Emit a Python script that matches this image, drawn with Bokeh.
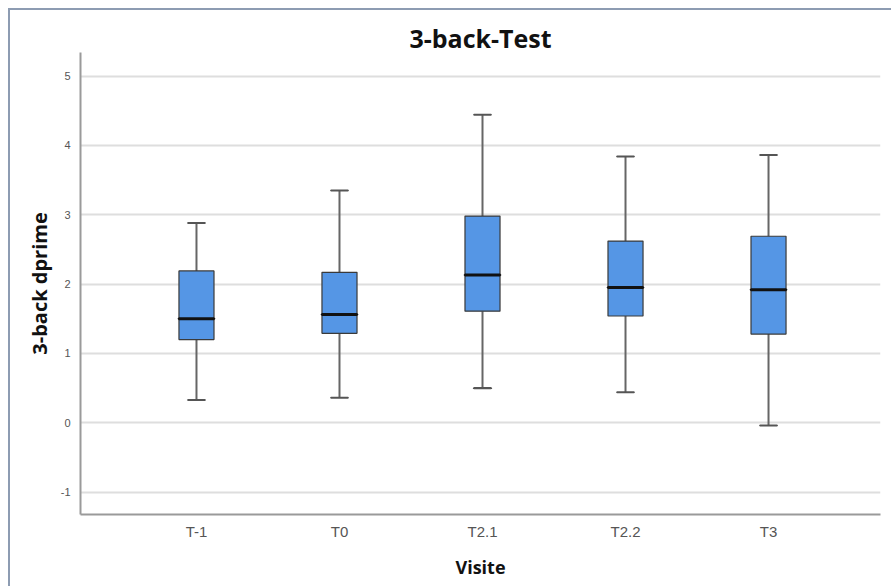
from bokeh.plotting import figure
from bokeh.models import Range1d, FixedTicker, ColumnDataSource
from bokeh.embed import file_html
from bokeh.resources import INLINE

# Data
visits = ["T-1", "T0", "T2.1", "T2.2", "T3"]
whisker_low = [0.33, 0.36, 0.50, 0.44, -0.04]
q1 = [1.20, 1.29, 1.61, 1.54, 1.28]
median = [1.50, 1.56, 2.13, 1.95, 1.92]
q3 = [2.19, 2.17, 2.98, 2.62, 2.69]
whisker_high = [2.88, 3.35, 4.44, 3.84, 3.86]
y_ticks = [-1, 0, 1, 2, 3, 4, 5]

xpos = list(range(len(visits)))

p = figure(width=883, height=578, output_backend="svg", toolbar_location=None,
           x_range=Range1d(-0.811, 4.783), y_range=Range1d(-1.322, 5.339),
           min_border_left=70, min_border_right=13, min_border_top=42, min_border_bottom=74)
p.styles = {"margin-left": "8px", "margin-top": "8px",
            "border-left": "2px solid #8d9cb2", "border-top": "2px solid #8d9cb2"}

p.title.text = "3-back-Test"
p.title.align = "center"
p.title.text_font = "Open Sans"
p.title.text_font_style = "bold"
p.title.text_font_size = "25px"
p.title.text_color = "#111111"
p.title.standoff = -5

p.outline_line_color = None
p.background_fill_color = "white"
p.border_fill_color = "white"

src = ColumnDataSource(dict(x=xpos, lo=whisker_low, q1=q1, med=median, q3=q3, hi=whisker_high))

# whiskers
p.segment(x0="x", y0="q3", x1="x", y1="hi", source=src, line_color="#666666", line_width=2)
p.segment(x0="x", y0="lo", x1="x", y1="q1", source=src, line_color="#666666", line_width=2)
p.rect(x="x", y="hi", width=0.12, height=0.0001, source=src, line_color="#555555", line_width=2)
p.rect(x="x", y="lo", width=0.12, height=0.0001, source=src, line_color="#555555", line_width=2)
# boxes
p.vbar(x="x", bottom="q1", top="q3", width=0.245, source=src,
       fill_color="#5596e5", line_color="#3a3a3a", line_width=1.2)
# medians
p.rect(x="x", y="med", width=0.245, height=0.0001, source=src, line_color="#111111", line_width=3)

# axes
p.xgrid.grid_line_color = None
p.ygrid.grid_line_color = "#dedede"
p.ygrid.grid_line_width = 2
p.yaxis.ticker = FixedTicker(ticks=y_ticks)
p.yaxis.major_label_overrides = {t: str(t) for t in y_ticks}
p.xaxis.ticker = FixedTicker(ticks=xpos)
p.xaxis.major_label_overrides = {i: v for i, v in enumerate(visits)}

for ax in (p.xaxis[0], p.yaxis[0]):
    ax.axis_line_color = "#9a9a9a"
    ax.axis_line_width = 2
    ax.major_tick_line_color = None
    ax.minor_tick_line_color = None
    ax.major_label_text_font = "Liberation Sans"
    ax.major_label_text_color = "#555555"
    ax.axis_label_text_font = "Open Sans"
    ax.axis_label_text_font_style = "bold"
    ax.axis_label_text_color = "#111111"

p.yaxis.axis_label_text_font_size = "20px"
p.xaxis.axis_label_text_font_size = "18px"
p.yaxis.major_label_text_font_size = "11px"
p.xaxis.major_label_text_font_size = "15px"
p.yaxis.major_label_standoff = 4
p.xaxis.major_label_standoff = 2
p.yaxis.axis_label = "3-back dprime"
p.xaxis.axis_label = "Visite"
p.yaxis.axis_label_standoff = 5
p.xaxis.axis_label_standoff = 12

open("out.html", "w").write(file_html(p, INLINE))
